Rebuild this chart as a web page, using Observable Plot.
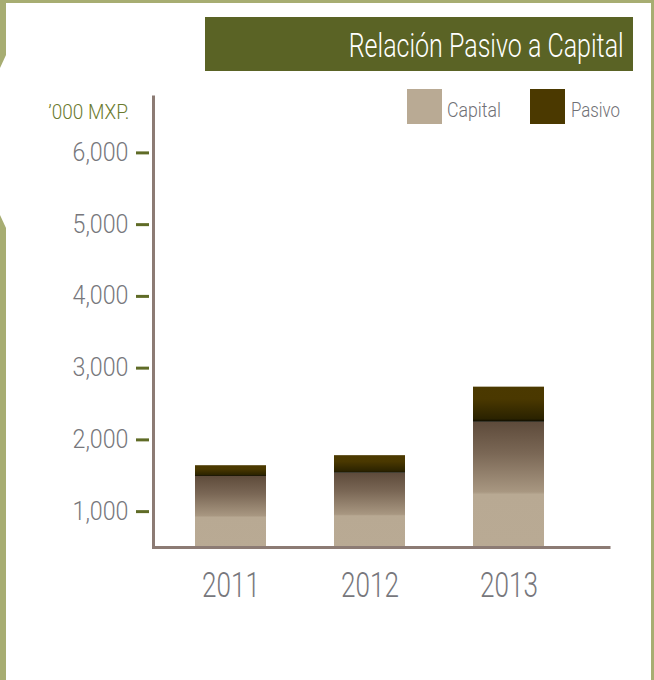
<!DOCTYPE html>
<html><head><meta charset="utf-8">
<script src="https://cdn.jsdelivr.net/npm/d3@7"></script>
<script src="https://cdn.jsdelivr.net/npm/@observablehq/plot@0.6"></script>
<style>
html,body{margin:0;padding:0;background:#fff;}
#wrap{position:relative;width:654px;height:680px;overflow:hidden;background:#fff;}
#deco{position:absolute;left:0;top:0;z-index:0;}
#chart{position:absolute;left:0;top:0;z-index:1;}
.t{position:absolute;white-space:nowrap;font-family:Roboto,"DejaVu Sans",sans-serif;font-weight:300;line-height:1;z-index:2;}
#titlebox{position:absolute;left:205px;top:17px;width:428px;height:54px;background:#5a6325;z-index:2;}
#title{right:30px;top:29px;font-size:33px;color:#fff;transform-origin:right center;}
#unit{right:525px;top:102px;font-size:20px;color:#6b7a2e;transform-origin:right center;}
.sw{position:absolute;top:89px;width:35px;height:35px;z-index:2;}
.lg{top:100px;font-size:20px;color:#707075;transform-origin:left center;}
</style></head>
<body>
<div id="wrap">
  <svg id="deco" width="654" height="680">
    <rect x="0" y="0" width="654" height="3" fill="#a7ad72"/>
    <rect x="651" y="0" width="3" height="680" fill="#a7ad72"/>
    <polygon points="0,0 6,0 6,55 0,68" fill="#a7ad72"/>
    <polygon points="0,215 6,228 6,680 0,680" fill="#a7ad72"/>
  </svg>
  <div id="titlebox"></div>
  <div id="title" class="t"></div>
  <div id="unit" class="t"></div>
  <div class="sw" style="left:407px;background:#b9aa94"></div>
  <div id="lg0" class="t lg" style="left:447px"></div>
  <div class="sw" style="left:530px;background:#4b3900"></div>
  <div id="lg1" class="t lg" style="left:571px"></div>
  <div id="chart"></div>
</div>
<script>
// ---- data ----
const titleText = "Relación Pasivo a Capital";
const unitText = "’000 MXP.";
const seriesNames = ["Capital", "Pasivo"];
const years = ["2011", "2012", "2013"];
const capital = [1490, 1535, 2245];
const pasivo = [150, 245, 490];
const yTicks = [1000, 2000, 3000, 4000, 5000, 6000];
const yDomain = [500, 6800];

const rows = years.map((year, i) => ({year, capital: capital[i], total: capital[i] + pasivo[i]}));
const fmt = d3.format(",d");

const FONT = 'Roboto, "DejaVu Sans", sans-serif';
const ctx = document.createElement("canvas").getContext("2d");
function widthOf(text, size) { ctx.font = `300 ${size}px ${FONT}`; return ctx.measureText(text).width; }

function setText(id, text, size, target) {
  const el = document.getElementById(id);
  el.textContent = text;
  el.style.transform = `scaleX(${target / widthOf(text, size)})`;
}
setText("title", titleText, 33, 275);
setText("unit", unitText, 20, 81);
setText("lg0", seriesNames[0], 20, 54);
setText("lg1", seriesNames[1], 20, 49);

const defs = () => {
  const d = d3.create("svg:defs");
  const g1 = d.append("linearGradient").attr("id", "gCap").attr("x1", 0).attr("y1", 0).attr("x2", 0).attr("y2", 1);
  [[0, "#5e4b3b"], [0.25, "#7a6755"], [0.56, "#a89781"], [0.58, "#b8a993"], [1, "#b9aa94"]]
    .forEach(([o, c]) => g1.append("stop").attr("offset", o).attr("stop-color", c));
  const g2 = d.append("linearGradient").attr("id", "gPas").attr("x1", 0).attr("y1", 0).attr("x2", 0).attr("y2", 1);
  [[0, "#4b3900"], [0.35, "#4a3800"], [0.92, "#2a2200"], [0.95, "#1a1500"], [1, "#0e0c00"]]
    .forEach(([o, c]) => g2.append("stop").attr("offset", o).attr("stop-color", c));
  return d.node();
};

const chart = Plot.plot({
  width: 654, height: 680,
  marginLeft: 153, marginRight: 44, marginTop: 95, marginBottom: 133,
  style: {background: "transparent", fontFamily: FONT, fontWeight: 300, overflow: "visible"},
  x: {domain: years, paddingInner: 0.489, paddingOuter: 0.388, align: 0.39},
  y: {domain: yDomain},
  marks: [
    defs,
    Plot.barY(rows, {x: "year", y1: yDomain[0], y2: "capital", fill: "url(#gCap)"}),
    Plot.barY(rows, {x: "year", y1: "capital", y2: "total", fill: "url(#gPas)"}),
    Plot.axisY({ticks: yTicks, tickSize: 13, dx: -4, tickFormat: () => "", stroke: "#5f6b26", strokeWidth: 3, label: null}),
    Plot.axisY({ticks: yTicks, tickSize: 0, tickPadding: 25, tickFormat: fmt, fill: "#77777c", fontSize: 25, label: null}),
    Plot.axisX({tickSize: 0, tickPadding: 25, fontSize: 35, fill: "#77777c", label: null}),
    Plot.frame({stroke: "#8c7b74", strokeWidth: 3, strokeDasharray: "0 909 909"})
  ]
});
document.getElementById("chart").appendChild(chart);

function squeeze(t, k) {
  const tr = t.getAttribute("transform") || "";
  const x = +(t.getAttribute("x") || 0);
  t.setAttribute("transform", `${tr} translate(${x},0) scale(${k},1) translate(${-x},0)`);
}
const kY = 56 / widthOf("6,000", 25);
const kX = 58 / widthOf("2012", 35);
const yLabels = yTicks.map(fmt);
chart.querySelectorAll("text").forEach(t => {
  const s = t.textContent;
  if (years.includes(s)) squeeze(t, kX);
  else if (yLabels.includes(s)) squeeze(t, kY);
});
</script>
</body></html>
